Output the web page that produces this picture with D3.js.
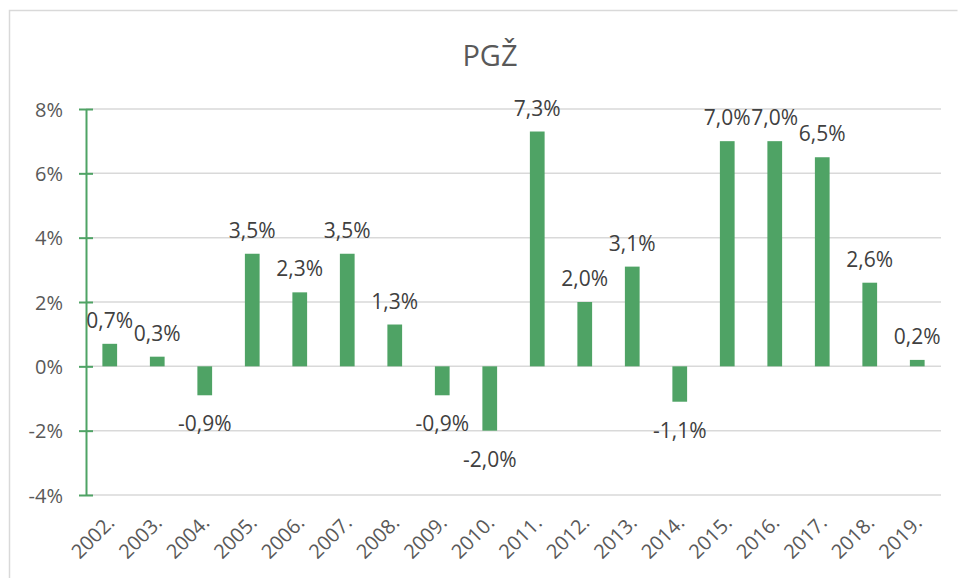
<!DOCTYPE html>
<meta charset="utf-8">
<script src="https://d3js.org/d3.v7.min.js"></script>
<style>
  body { margin: 0; background: #fff; }
  text { font-family: "Open Sans", "Liberation Sans", sans-serif; }
</style>
<body>
<div id="canvas"></div>
<script>

    // podaci
    var years = ["2002.", "2003.", "2004.", "2005.", "2006.", "2007.", "2008.", "2009.", "2010.",
                 "2011.", "2012.", "2013.", "2014.", "2015.", "2016.", "2017.", "2018.", "2019."];
    var values = [0.7, 0.3, -0.9, 3.5, 2.3, 3.5, 1.3, -0.9, -2.0, 7.3, 2.0, 3.1, -1.1, 7.0, 7.0, 6.5, 2.6, 0.2];
    var yTicks = [-4, -2, 0, 2, 4, 6, 8];
    var title = "PGŽ";

    var width = 958;
    var height = 578;
    var green = "#4fa365";

    var svg = d3.select("#canvas")
        .append("svg")
        .attr("width", width)
        .attr("height", height);

    // okvir grafikona
    svg.append("path")
        .attr("d", "M9.5," + height + "V10.5H957.5")
        .attr("fill", "none")
        .attr("stroke", "#d9d9d9")
        .attr("stroke-width", 1.5);

    var plot = {left: 86, right: 941, top: 109, bottom: 495};

    var x = d3.scaleBand()
        .domain(years)
        .range([plot.left, plot.right]);

    var y = d3.scaleLinear()
        .domain([-4, 8])
        .range([plot.bottom, plot.top]);

    var barW = x.bandwidth() * 0.31;

    // naslov
    svg.append("text")
        .attr("x", 490)
        .attr("y", 66)
        .attr("text-anchor", "middle")
        .style("font-size", "29px")
        .attr("fill", "#595959")
        .text(title);

    // mreza
    svg.append("g")
        .selectAll("line")
        .data(yTicks)
        .enter()
        .append("line")
        .attr("x1", plot.left)
        .attr("x2", plot.right)
        .attr("y1", function(d) { return y(d); })
        .attr("y2", function(d) { return y(d); })
        .attr("stroke", "#d9d9d9")
        .attr("stroke-width", 1.5);

    // os Y
    var yAxis = d3.axisLeft(y)
        .tickValues(yTicks)
        .tickSizeOuter(0)
        .tickFormat(function(d) { return d + "%"; });

    var gy = svg.append("g")
        .attr("transform", "translate(" + plot.left + ",0)")
        .call(yAxis);
    gy.select(".domain").attr("stroke", green).attr("stroke-width", 2);
    gy.selectAll(".tick line")
        .attr("x1", -7)
        .attr("x2", 7)
        .attr("stroke", green)
        .attr("stroke-width", 2);
    gy.selectAll(".tick text")
        .attr("x", -23)
        .attr("dy", "0.35em")
        .attr("fill", "#595959")
        .style("font-family", "'Open Sans', sans-serif")
        .style("font-size", "20px");

    // stupci
    svg.append("g")
        .selectAll("rect")
        .data(values)
        .enter()
        .append("rect")
        .attr("x", function(d, i) { return x(years[i]) + x.bandwidth() / 2 - barW / 2; })
        .attr("width", barW)
        .attr("y", function(d) { return y(Math.max(0, d)); })
        .attr("height", function(d) { return Math.abs(y(d) - y(0)); })
        .attr("fill", green);

    // oznake vrijednosti
    svg.append("g")
        .selectAll("text")
        .data(values)
        .enter()
        .append("text")
        .attr("x", function(d, i) { return x(years[i]) + x.bandwidth() / 2; })
        .attr("y", function(d) { return d >= 0 ? y(d) - 16 : y(d) + 36; })
        .attr("text-anchor", "middle")
        .attr("fill", "#404040")
        .style("font-size", "21px")
        .text(function(d) { return d.toFixed(1).replace(".", ",") + "%"; });

    // oznake godina
    svg.append("g")
        .selectAll("text")
        .data(years)
        .enter()
        .append("text")
        .attr("transform", function(d) {
            return "translate(" + (x(d) + x.bandwidth() / 2 + 6) + ",524) rotate(-45)";
        })
        .attr("text-anchor", "end")
        .attr("fill", "#595959")
        .style("font-size", "20px")
        .text(function(d) { return d; });

</script>
</body>
